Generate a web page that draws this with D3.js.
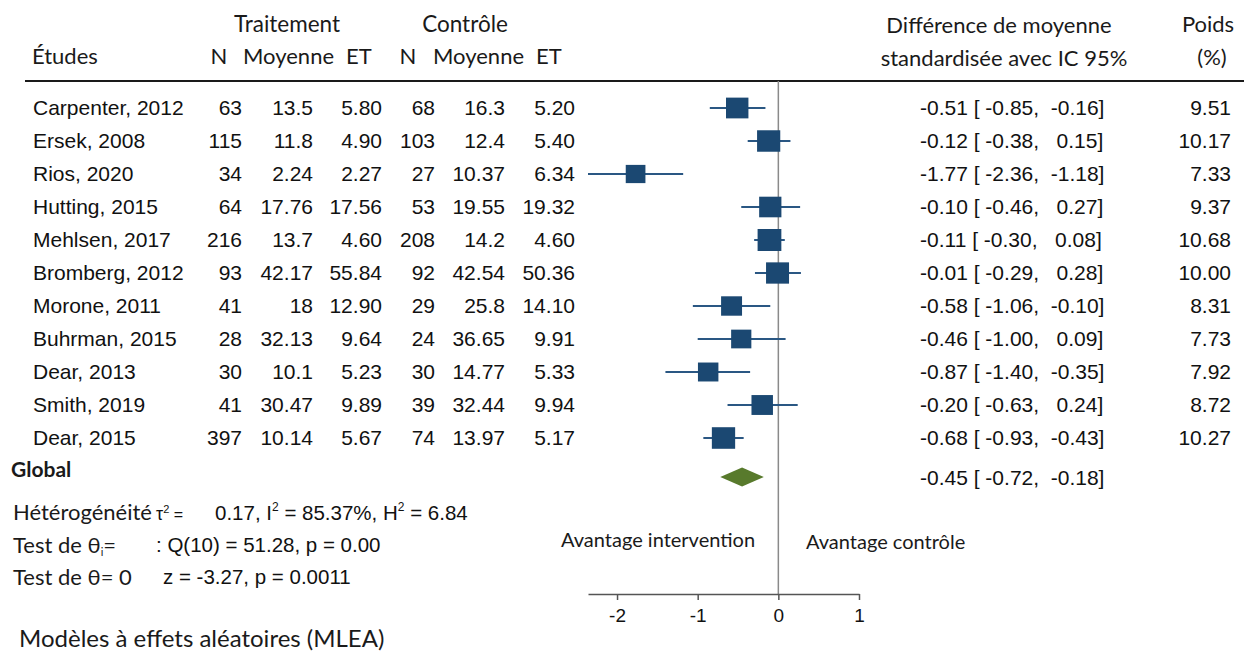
<!DOCTYPE html>
<html lang="fr">
<head>
<meta charset="utf-8">
<title>Forest plot – différence de moyenne standardisée</title>
<script src="https://cdn.jsdelivr.net/npm/d3@7"></script>
<style>
  html, body { margin: 0; padding: 0; background: #fff; }
  svg { display: block; }
  .num { font-family: "Liberation Sans", Arial, sans-serif; fill: #111; }
  .hum { font-family: Lato, "Open Sans", sans-serif; fill: #1a1a1a; }
  .pre { white-space: pre; }
</style>
</head>
<body>
<svg id="chart" width="1244" height="652"></svg>
<script>
// ---- Study-level data -------------------------------------------------
const studies = ["Carpenter, 2012", "Ersek, 2008", "Rios, 2020", "Hutting, 2015",
  "Mehlsen, 2017", "Bromberg, 2012", "Morone, 2011", "Buhrman, 2015",
  "Dear, 2013", "Smith, 2019", "Dear, 2015"];

const nTreat    = [63, 115, 34, 64, 216, 93, 41, 28, 30, 41, 397];
const meanTreat = [13.5, 11.8, 2.24, 17.76, 13.7, 42.17, 18, 32.13, 10.1, 30.47, 10.14];
const sdTreat   = [5.80, 4.90, 2.27, 17.56, 4.60, 55.84, 12.90, 9.64, 5.23, 9.89, 5.67];

const nCtrl    = [68, 103, 27, 53, 208, 92, 29, 24, 30, 39, 74];
const meanCtrl = [16.3, 12.4, 10.37, 19.55, 14.2, 42.54, 25.8, 36.65, 14.77, 32.44, 13.97];
const sdCtrl   = [5.20, 5.40, 6.34, 19.32, 4.60, 50.36, 14.10, 9.91, 5.33, 9.94, 5.17];

const smd    = [-0.51, -0.12, -1.77, -0.10, -0.11, -0.01, -0.58, -0.46, -0.87, -0.20, -0.68];
const ciLow  = [-0.85, -0.38, -2.36, -0.46, -0.30, -0.29, -1.06, -1.00, -1.40, -0.63, -0.93];
const ciHigh = [-0.16, 0.15, -1.18, 0.27, 0.08, 0.28, -0.10, 0.09, -0.35, 0.24, -0.43];
const weight = [9.51, 10.17, 7.33, 9.37, 10.68, 10.00, 8.31, 7.73, 7.92, 8.72, 10.27];

// ---- Pooled estimate (random effects, REML) -----------------------------
const overall = [-0.45, -0.72, -0.18];   // estimate, lower, upper

const axisTicks = [-2, -1, 0, 1];

// ---- Layout -----------------------------------------------------------
const svg = d3.select("#chart");
const ruleY = 81;
const axisY = 594;

const x = d3.scaleLinear().domain([d3.min(ciLow), 1]).range([588, 859]);
const y = d3.scalePoint().domain(studies).range([108, 438]);
const boxH = d3.scaleSqrt().domain([0, d3.max(weight)]).range([0, 22]);

const rows = studies.map((s, i) => ({
  study: s, nT: nTreat[i], mT: meanTreat[i], sT: sdTreat[i],
  nC: nCtrl[i], mC: meanCtrl[i], sC: sdCtrl[i],
  est: smd[i], lo: ciLow[i], hi: ciHigh[i], w: weight[i]
}));

const pad6 = v => v.toFixed(2).padStart(6, " ");
const ciLabel = (e, l, h) => `${e.toFixed(2)} [${pad6(l)}, ${pad6(h)}]`;

// ---- Column headers ---------------------------------------------------
const head = svg.append("g").attr("class", "hum").style("font-size", "22px");
head.append("text").attr("x", 287).attr("y", 32).attr("text-anchor", "middle")
  .style("font-size", "22.5px").text("Traitement");
head.append("text").attr("x", 465).attr("y", 32).attr("text-anchor", "middle")
  .style("font-size", "22.5px").text("Contrôle");
head.append("text").attr("x", 32).attr("y", 64).text("Études");
[[219, "middle", "N"], [243, "start", "Moyenne"], [346, "start", "ET"],
 [408, "middle", "N"], [433, "start", "Moyenne"], [536, "start", "ET"]]
  .forEach(([hx, anchor, t]) => head.append("text").attr("x", hx).attr("y", 64)
    .attr("text-anchor", anchor).text(t));
head.append("text").attr("x", 999).attr("y", 33).attr("text-anchor", "middle").text("Différence de moyenne");
head.append("text").attr("x", 1004).attr("y", 66).attr("text-anchor", "middle").text("standardisée avec IC 95%");
head.append("text").attr("x", 1208).attr("y", 32).attr("text-anchor", "middle").text("Poids");
head.append("text").attr("x", 1212).attr("y", 65).attr("text-anchor", "middle").text("(%)");

svg.append("line").attr("x1", 25).attr("x2", 1244).attr("y1", ruleY).attr("y2", ruleY)
  .attr("stroke", "#1a1a1a").attr("stroke-width", 2);

// ---- Line of no effect ------------------------------------------------
svg.append("line").attr("x1", x(0)).attr("x2", x(0)).attr("y1", ruleY).attr("y2", axisY)
  .attr("stroke", "#8a8a8a").attr("stroke-width", 1.5);

// ---- Table text -------------------------------------------------------
const cols = [
  { key: "study", x: 33,  anchor: "start", fmt: d => d },
  { key: "nT",    x: 242, anchor: "end",   fmt: d => String(d) },
  { key: "mT",    x: 313, anchor: "end",   fmt: d => String(d) },
  { key: "sT",    x: 382, anchor: "end",   fmt: d => d.toFixed(2) },
  { key: "nC",    x: 435, anchor: "end",   fmt: d => String(d) },
  { key: "mC",    x: 505, anchor: "end",   fmt: d => String(d) },
  { key: "sC",    x: 575, anchor: "end",   fmt: d => d.toFixed(2) },
  { key: "w",     x: 1231, anchor: "end",  fmt: d => d.toFixed(2) }
];

const table = svg.append("g").attr("class", "num").style("font-size", "21px");
cols.forEach(c => {
  table.selectAll(null).data(rows).join("text")
    .attr("x", c.x).attr("y", d => y(d.study) + 7)
    .attr("text-anchor", c.anchor)
    .text(d => c.fmt(d[c.key]));
});
table.selectAll(null).data(rows).join("text")
  .attr("class", "pre")
  .attr("x", 920).attr("y", d => y(d.study) + 7)
  .text(d => ciLabel(d.est, d.lo, d.hi));

// ---- Confidence intervals and weighted boxes --------------------------
const marks = svg.append("g");
marks.selectAll("line.ci").data(rows).join("line")
  .attr("class", "ci")
  .attr("x1", d => x(d.lo)).attr("x2", d => x(d.hi))
  .attr("y1", d => y(d.study)).attr("y2", d => y(d.study))
  .attr("stroke", "#2a5783").attr("stroke-width", 2);
marks.selectAll("rect").data(rows).join("rect")
  .attr("x", d => x(d.est) - boxH(d.w) * 0.54)
  .attr("y", d => y(d.study) - boxH(d.w) / 2)
  .attr("width", d => boxH(d.w) * 1.08)
  .attr("height", d => boxH(d.w))
  .attr("fill", "#1b4872");

// ---- Pooled estimate --------------------------------------------------
const gy = 477;
svg.append("text").attr("class", "hum").attr("x", 11).attr("y", 477)
  .style("font-size", "21px").style("font-weight", "bold").text("Global");
svg.append("polygon")
  .attr("points", [[x(overall[1]), gy], [x(overall[0]), gy - 9.5],
                   [x(overall[2]), gy], [x(overall[0]), gy + 9.5]].map(p => p.join(",")).join(" "))
  .attr("fill", "#587a2c");
svg.append("text").attr("class", "num pre").attr("x", 920).attr("y", gy + 8)
  .style("font-size", "21px").text(ciLabel(...overall));

// ---- Heterogeneity and tests ------------------------------------------
const stats = svg.append("g");
stats.append("text").attr("class", "hum").attr("x", 13).attr("y", 520)
  .style("font-size", "22px").text("Hétérogénéité");
const tau = stats.append("text").attr("class", "num").attr("x", 156).attr("y", 520).style("font-size", "18px");
tau.append("tspan").text("τ");
tau.append("tspan").attr("dy", -7).style("font-size", "11px").text("2");
tau.append("tspan").attr("dy", 7).style("font-size", "16px").text(" =");

const het = stats.append("text").attr("class", "num pre").attr("x", 215).attr("y", 520).style("font-size", "20.5px");
het.append("tspan").text("0.17, I");
het.append("tspan").attr("dy", -9).style("font-size", "12px").text("2");
het.append("tspan").attr("dy", 9).text(" = 85.37%, H");
het.append("tspan").attr("dy", -9).style("font-size", "12px").text("2");
het.append("tspan").attr("dy", 9).text(" = 6.84");

const t1 = stats.append("text").attr("class", "hum").attr("x", 13).attr("y", 553).style("font-size", "22px");
t1.append("tspan").text("Test de θ");
t1.append("tspan").attr("dy", 3).style("font-size", "11px").text("i");
t1.append("tspan").attr("dy", -3).text("=");
stats.append("text").attr("class", "num pre").attr("x", 156).attr("y", 552)
  .style("font-size", "20.5px").text(": Q(10) = 51.28, p = 0.00");

stats.append("text").attr("class", "hum").attr("x", 13).attr("y", 585)
  .style("font-size", "22px").text("Test de θ= 0");
stats.append("text").attr("class", "num pre").attr("x", 163).attr("y", 584)
  .style("font-size", "20.5px").text("z = -3.27, p = 0.0011");

svg.append("text").attr("class", "hum").attr("x", 19).attr("y", 647)
  .style("font-size", "24px").text("Modèles à effets aléatoires (MLEA)");

// ---- Direction labels -------------------------------------------------
svg.append("text").attr("class", "hum").attr("x", 561).attr("y", 547)
  .style("font-size", "20px").text("Avantage intervention");
svg.append("text").attr("class", "hum").attr("x", 806).attr("y", 549)
  .style("font-size", "20px").text("Avantage contrôle");

// ---- Effect-size axis -------------------------------------------------
const axis = svg.append("g").attr("transform", `translate(0,${axisY})`)
  .call(d3.axisBottom(x).tickValues(axisTicks).tickSize(6).tickSizeOuter(0)
        .tickPadding(9).tickFormat(d => String(d)));
axis.select(".domain").attr("stroke", "#555").attr("stroke-width", 1.5);
axis.selectAll(".tick line").attr("stroke", "#555").attr("stroke-width", 1.5);
axis.selectAll(".tick text").attr("class", "num")
  .style("font-size", "19px").attr("fill", "#111");
</script>
</body>
</html>
